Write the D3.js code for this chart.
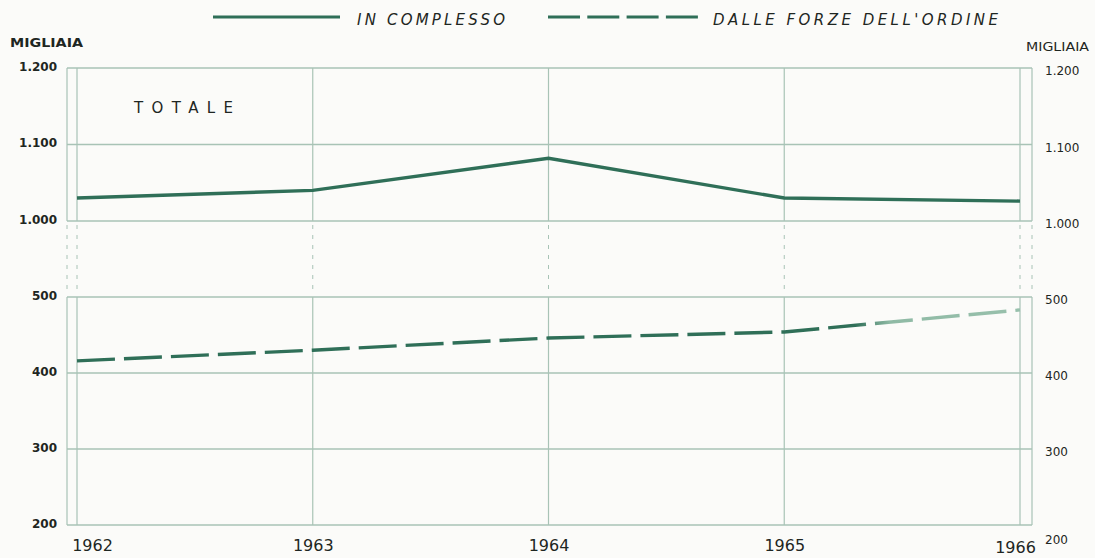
<!DOCTYPE html>
<html><head><meta charset="utf-8">
<script src="https://cdn.jsdelivr.net/npm/d3@7"></script>
<style>
html,body{margin:0;padding:0;background:#fbfbf9;}
svg{display:block;}
text{font-family:"DejaVu Sans",sans-serif;fill:#1e2622;}
</style></head>
<body>
<script>
const years = [1962, 1963, 1964, 1965, 1966];
const inComplesso = [1030, 1040, 1082, 1030, 1026];
const dalleForze = [416, 430, 446, 454, 483];
const tickValues = [200, 300, 400, 500, 1000, 1100, 1200];
const tickLabels = ["200", "300", "400", "500", "1.000", "1.100", "1.200"];
const seriesNames = ["IN COMPLESSO", "DALLE FORZE DELL'ORDINE"];

const W = 1095, H = 558;
const frameL = 67, frameR = 1032;
const svg = d3.select("body").append("svg").attr("width", W).attr("height", H);

const x = d3.scaleLinear().domain([1962, 1966]).range([77, 1020]);
// broken axis: 500 -> 1000 compressed into one interval
const y = d3.scaleLinear().domain([200, 500, 1000, 1200]).range([525, 297, 221, 68]);

const green = "#2f6f58";
const grid = "#a8c3b6";

const defs = svg.append("defs");
const grad = defs.append("linearGradient").attr("id", "fade")
  .attr("gradientUnits", "userSpaceOnUse")
  .attr("x1", x(1965)).attr("x2", x(1966)).attr("y1", 0).attr("y2", 0);
grad.append("stop").attr("offset", "0%").attr("stop-color", green);
grad.append("stop").attr("offset", "30%").attr("stop-color", green);
grad.append("stop").attr("offset", "45%").attr("stop-color", "#8fbaa5");
grad.append("stop").attr("offset", "100%").attr("stop-color", "#98c0ac");

const g = svg.append("g");

// horizontal gridlines
g.selectAll("line.h").data(tickValues).enter().append("line")
  .attr("x1", frameL).attr("x2", frameR)
  .attr("y1", d => y(d)).attr("y2", d => y(d))
  .attr("stroke", grid).attr("stroke-width", 1.3);

// vertical lines (solid parts) and dashed parts in the broken region
const vx = [frameL].concat(years.map(d => x(d))).concat([frameR]);
vx.forEach(px => {
  g.append("line").attr("x1", px).attr("x2", px).attr("y1", y(1200)).attr("y2", y(1000))
    .attr("stroke", grid).attr("stroke-width", 1.2);
  g.append("line").attr("x1", px).attr("x2", px).attr("y1", y(500)).attr("y2", y(200))
    .attr("stroke", grid).attr("stroke-width", 1.2);
  g.append("line").attr("x1", px).attr("x2", px).attr("y1", y(1000) + 4).attr("y2", y(500) - 4)
    .attr("stroke", grid).attr("stroke-width", 1).attr("stroke-dasharray", "4,6");
});

// Y axis labels (left & right)
const yAxisL = d3.axisLeft(y).tickValues(tickValues).tickFormat((d, i) => tickLabels[i]).tickSize(0).tickPadding(10);
const gl = svg.append("g").attr("transform", `translate(${frameL},0)`).call(yAxisL);
gl.select(".domain").remove();
gl.selectAll("text").style("font-size", "12px").style("font-weight", "bold").attr("fill", "#1e2622").attr("dy", "0.2em");

const yAxisR = d3.axisRight(y).tickValues(tickValues).tickFormat((d, i) => tickLabels[i]).tickSize(0).tickPadding(13);
const gr = svg.append("g").attr("transform", `translate(${frameR},0)`).call(yAxisR);
gr.select(".domain").remove();
gr.selectAll("text").style("font-size", "12px").attr("fill", "#2b3430").attr("dy", "0.55em");
gr.selectAll(".tick").filter(d => d === 200).select("text").attr("dy", "1.5em");

// X axis labels
const xAxis = d3.axisBottom(x).tickValues(years).tickFormat(d3.format("d")).tickSize(0);
const gx = svg.append("g").attr("transform", `translate(0,${y(200)})`).call(xAxis);
gx.select(".domain").remove();
gx.selectAll("text").style("font-size", "16px").attr("fill", "#1e2622").attr("y", 26).attr("dy", 0);
gx.selectAll(".tick").filter(d => d === 1962).select("text").attr("dx", "15px");
gx.selectAll(".tick").filter(d => d === 1966).select("text").attr("dx", "-5px").attr("y", 28);

// MIGLIAIA
svg.append("text").attr("x", 10).attr("y", 47).text("MIGLIAIA").style("font-size", "12px").style("font-weight", "bold")
  .attr("textLength", 73).attr("lengthAdjust", "spacingAndGlyphs");
svg.append("text").attr("x", 1026).attr("y", 51).text("MIGLIAIA").style("font-size", "12px")
  .attr("textLength", 63).attr("lengthAdjust", "spacingAndGlyphs");

// TOTALE
svg.append("text").attr("x", 134).attr("y", 113).text("TOTALE").style("font-size", "15px")
  .attr("textLength", 99).attr("lengthAdjust", "spacing");

// lines
const line = d3.line().x((d, i) => x(years[i])).y(d => y(d));
svg.append("path").datum(inComplesso).attr("d", line)
  .attr("fill", "none").attr("stroke", green).attr("stroke-width", 3.4);

svg.append("path").datum(dalleForze).attr("d", line)
  .attr("fill", "none").attr("stroke", "url(#fade)").attr("stroke-width", 3.4)
  .attr("stroke-dasharray", "38,9");

// legend
const leg = svg.append("g");
leg.append("line").attr("x1", 213).attr("x2", 340).attr("y1", 17).attr("y2", 17)
  .attr("stroke", green).attr("stroke-width", 3);
leg.append("text").attr("x", 357).attr("y", 25).text(seriesNames[0])
  .style("font-size", "15px").style("font-style", "italic")
  .attr("textLength", 148).attr("lengthAdjust", "spacing");
leg.append("line").attr("x1", 548).attr("x2", 698).attr("y1", 17).attr("y2", 17)
  .attr("stroke", green).attr("stroke-width", 3).attr("stroke-dasharray", "32,7.3");
leg.append("text").attr("x", 713).attr("y", 25).text(seriesNames[1])
  .style("font-size", "15px").style("font-style", "italic")
  .attr("textLength", 285).attr("lengthAdjust", "spacing");
</script>
</body></html>
